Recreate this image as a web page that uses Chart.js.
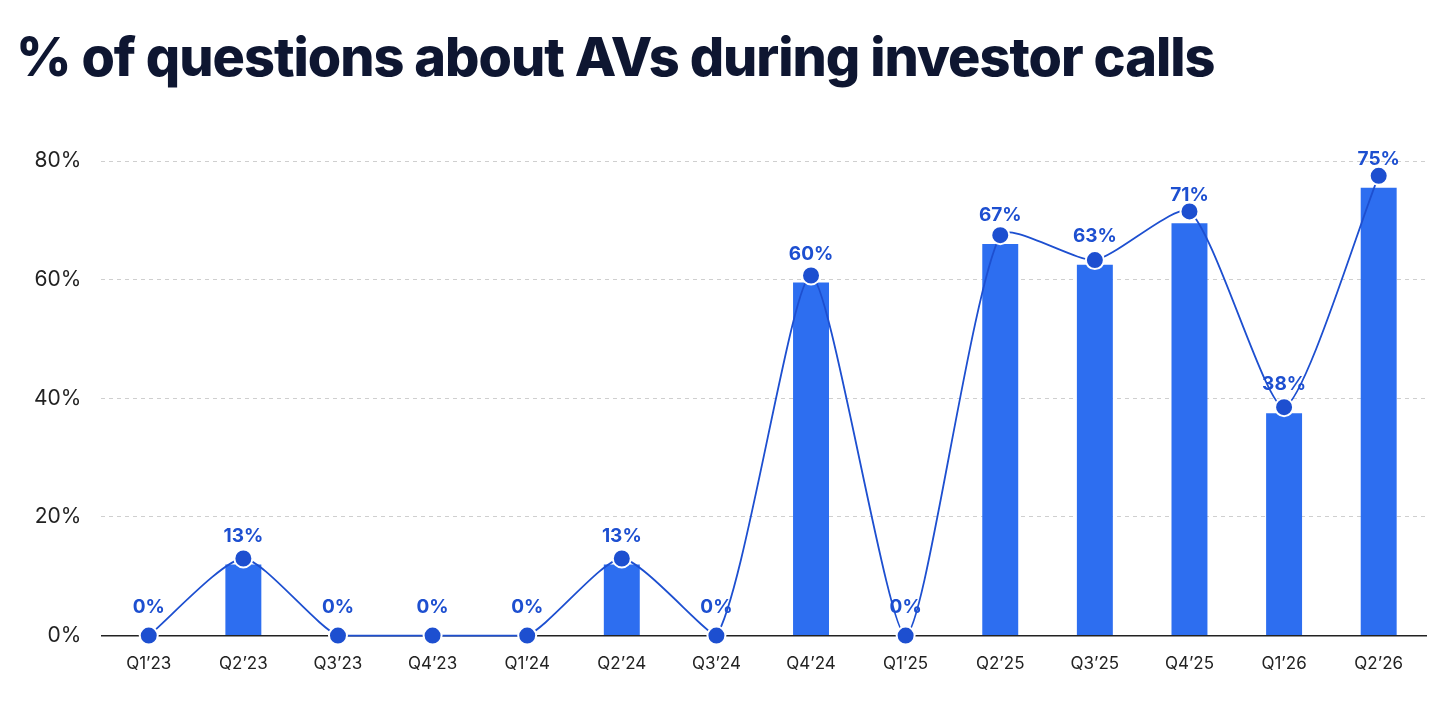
<!DOCTYPE html>
<html><head><meta charset="utf-8">
<script src="https://cdn.jsdelivr.net/npm/chart.js@4"></script>
<style>
body{margin:0;background:#fff;width:1456px;height:727px;overflow:hidden;font-family:Inter,"Noto Sans",sans-serif}
h1{position:absolute;left:16px;top:24px;margin:0;font-size:54px;font-weight:800;color:#0e1631;letter-spacing:-1px}
#w{position:absolute;left:0;top:0;width:1456px;height:727px}
</style></head><body>
<div id="w"><canvas id="c"></canvas></div>
<h1>% of questions about AVs during investor calls</h1>
<script>
const categories=["Q1’23","Q2’23","Q3’23","Q4’23","Q1’24","Q2’24","Q3’24","Q4’24","Q1’25","Q2’25","Q3’25","Q4’25","Q1’26","Q2’26"];
const barValues=[0,12,0,0,0,12,0,59.5,0,66,62.5,69.5,37.5,75.5];
const lineValues=[0,13,0,0,0,13,0,60.7,0,67.5,63.3,71.5,38.5,77.5];
const pointLabels=["0%","13%","0%","0%","0%","13%","0%","60%","0%","67%","63%","71%","38%","75%"];
const yTicks=[0,20,40,60,80];
const labelPlugin={id:'lbl',afterDatasetsDraw(ch){const m=ch.getDatasetMeta(1),x=ch.ctx;x.save();x.fillStyle='#1d4fd0';x.font='bold 19px Inter, sans-serif';x.textAlign='center';x.textBaseline='bottom';m.data.forEach((p,i)=>x.fillText(pointLabels[i],p.x,p.y-19));x.restore();}};
new Chart(document.getElementById('c'),{
data:{labels:categories,datasets:[
{type:'line',data:lineValues,borderColor:'#1d4fd0',borderWidth:1.8,tension:0.2,pointRadius:9,pointBackgroundColor:'#1d4fd0',pointBorderColor:'#fff',pointBorderWidth:2,order:0,clip:false},
{type:'bar',data:barValues,backgroundColor:'#2d6ef0',barPercentage:0.38,categoryPercentage:1,order:1}
]},
options:{responsive:true,maintainAspectRatio:false,animation:false,
layout:{padding:{top:161,right:30,left:14,bottom:43}},
plugins:{legend:{display:false},tooltip:{enabled:false}},
scales:{
x:{grid:{display:false},border:{color:'#222',width:1.5},ticks:{color:'#222',font:{size:17,family:'Inter'},padding:10}},
y:{min:0,max:80,afterBuildTicks:a=>{a.ticks=yTicks.map(v=>({value:v}))},grid:{color:'#cfcfcf',drawTicks:false},border:{display:false,dash:[4,4]},ticks:{color:'#222',padding:20,font:{size:21,family:'Inter'},callback:v=>v+'%'}}
}},
plugins:[labelPlugin]
});
</script></body></html>
